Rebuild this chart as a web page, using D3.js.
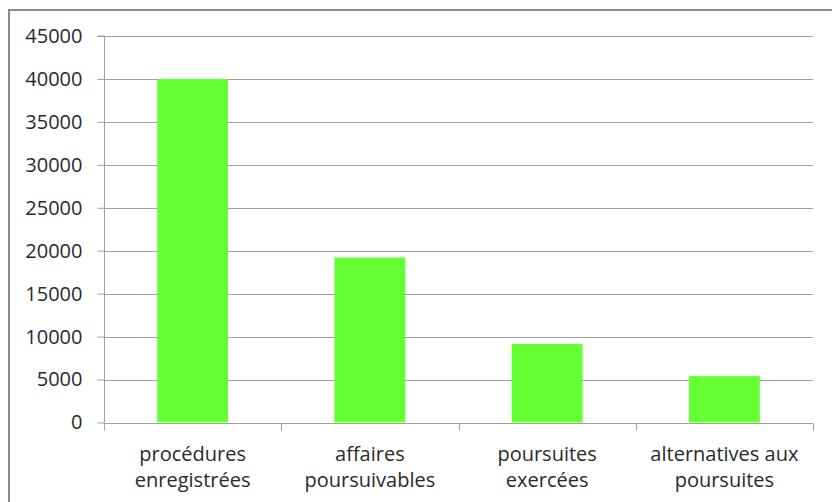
<!DOCTYPE html>
<html>
<head>
<meta charset="utf-8">
<script src="https://cdn.jsdelivr.net/npm/d3@7"></script>
<style>
  html, body { margin: 0; padding: 0; background: #fff; }
  svg { display: block; }
  text { font-family: "Open Sans", Lato, sans-serif; }
</style>
</head>
<body>
<svg id="chart" width="832" height="502"></svg>
<script>
// Categories (two-line labels) and their counts
const categories = [
  ["procédures", "enregistrées"],
  ["affaires", "poursuivables"],
  ["poursuites", "exercées"],
  ["alternatives aux", "poursuites"]
];
const values = [40000, 19200, 9150, 5400];
const yTicks = [0, 5000, 10000, 15000, 20000, 25000, 30000, 35000, 40000, 45000];

const W = 832, H = 502;
const margin = { left: 104, right: 19, top: 36, bottom: 79.5 };
const textColor = "#2a2a2a";
const fontSize = 20;
const svg = d3.select("#chart");

// Outer frame (left and top edges visible)
svg.append("path")
  .attr("d", `M9,${H} L9,10 L${W},10`)
  .attr("fill", "none")
  .attr("stroke", "#8a8a8a")
  .attr("stroke-width", 2);

const x = d3.scaleBand()
  .domain(d3.range(categories.length))
  .range([margin.left, W - margin.right])
  .paddingInner(0.6)
  .paddingOuter(0.3);

const y = d3.scaleLinear()
  .domain([0, 45000])
  .range([H - margin.bottom, margin.top]);

// Horizontal gridlines
svg.append("g")
  .selectAll("line")
  .data(yTicks.filter(d => d > 0))
  .join("line")
  .attr("x1", margin.left)
  .attr("x2", W - margin.right)
  .attr("y1", d => Math.round(y(d)) + 0.5)
  .attr("y2", d => Math.round(y(d)) + 0.5)
  .attr("stroke", "#a0a0a0")
  .attr("stroke-width", 1);

// Bars
svg.append("g")
  .selectAll("rect")
  .data(values)
  .join("rect")
  .attr("x", (d, i) => x(i))
  .attr("width", x.bandwidth())
  .attr("y", d => y(d))
  .attr("height", d => y(0) - y(d))
  .attr("fill", "#66ff33");

// Y axis
const yAxis = svg.append("g")
  .attr("transform", `translate(${margin.left + 0.5},0)`)
  .call(d3.axisLeft(y).tickValues(yTicks).tickSize(7).tickPadding(15).tickFormat(d3.format("d")));
yAxis.selectAll("path, line").attr("stroke", "#a0a0a0");
yAxis.selectAll("text").attr("font-size", fontSize).style("fill", textColor);
yAxis.select(".domain").attr("d", `M-7,${y(45000)}H0V${y(0)}`);

// X axis with ticks on the category boundaries
const xBase = Math.round(y(0)) + 0.5;
const step = (W - margin.right - margin.left) / categories.length;
const xAxis = svg.append("g");
xAxis.append("line")
  .attr("x1", margin.left).attr("x2", W - margin.right)
  .attr("y1", xBase).attr("y2", xBase)
  .attr("stroke", "#a0a0a0");
xAxis.selectAll("line.tick")
  .data(d3.range(categories.length + 1))
  .join("line")
  .attr("class", "tick")
  .attr("x1", i => Math.round(margin.left + i * step) + 0.5)
  .attr("x2", i => Math.round(margin.left + i * step) + 0.5)
  .attr("y1", xBase).attr("y2", xBase + 7)
  .attr("stroke", "#a0a0a0");

// Category labels
const lbl = xAxis.selectAll("text")
  .data(categories)
  .join("text")
  .attr("text-anchor", "middle")
  .attr("font-size", fontSize)
  .style("fill", textColor)
  .attr("transform", (d, i) => `translate(${x(i) + x.bandwidth() / 2},0)`);
lbl.selectAll("tspan")
  .data(d => d)
  .join("tspan")
  .attr("x", 0)
  .attr("y", (d, j) => 461 + j * 26)
  .text(d => d);
</script>
</body>
</html>
